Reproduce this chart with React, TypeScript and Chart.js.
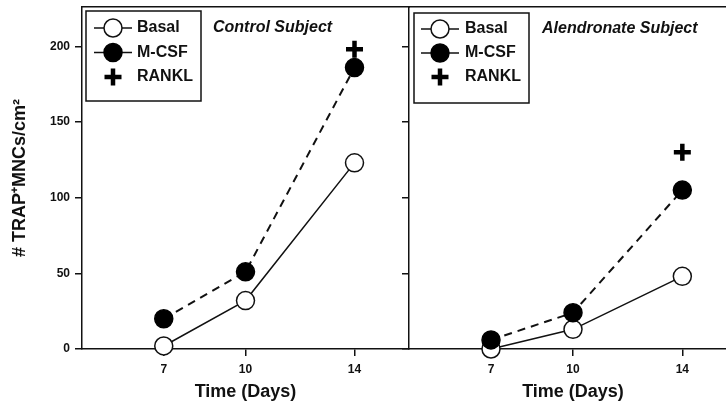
import React, { useEffect, useRef } from 'react';
import { Chart, registerables } from 'chart.js';

Chart.register(...registerables);

// ---- data ----
const days = [7, 10, 14];
const rankDays = [14];
const xTicks = [7, 10, 14];
const yTicks = [0, 50, 100, 150, 200];
const seriesLabels = ['Basal', 'M-CSF', 'RANKL'];
const panelTitles = ['Control Subject', 'Alendronate Subject'];
const xTitle = 'Time (Days)';
const yTitle = '# TRAP⁺MNCs/cm²';

const controlBasal = [2, 32, 123];
const controlMCSF = [20, 51, 186];
const controlRANKL = [198];

const alendronateBasal = [0, 13, 48];
const alendronateMCSF = [6, 24, 105];
const alendronateRANKL = [130];

const X_MIN = 4;
const X_MAX = 16;
const Y_MIN = 0;
const Y_MAX = 226;

const FONT = '"Liberation Sans", Arial, Helvetica, sans-serif';
const INK = '#111';

Chart.defaults.font.family = FONT;
Chart.defaults.color = INK;

function makeDatasets(basal: number[], mcsf: number[], rankl: number[]) {
  return [
    {
      label: seriesLabels[0],
      data: days.map((d, i) => ({ x: d, y: basal[i] })),
      borderColor: INK,
      borderWidth: 1.5,
      pointStyle: 'circle',
      pointRadius: 9,
      pointBackgroundColor: '#fff',
      pointBorderColor: INK,
      pointBorderWidth: 1.5,
      showLine: true,
      fill: false,
      order: 2,
      clip: false,
    },
    {
      label: seriesLabels[1],
      data: days.map((d, i) => ({ x: d, y: mcsf[i] })),
      borderColor: INK,
      borderWidth: 2,
      borderDash: [8, 6],
      pointStyle: 'circle',
      pointRadius: 9,
      pointBackgroundColor: '#000',
      pointBorderColor: '#000',
      pointBorderWidth: 1.5,
      showLine: true,
      fill: false,
      order: 1,
      clip: false,
    },
    {
      label: seriesLabels[2],
      data: rankDays.map((d, i) => ({ x: d, y: rankl[i] })),
      borderColor: '#000',
      showLine: false,
      pointStyle: 'cross',
      pointRadius: 8.5,
      pointBackgroundColor: '#000',
      pointBorderColor: '#000',
      pointBorderWidth: 4.5,
      order: 0,
      clip: false,
    },
  ];
}

const panelDecor = {
  id: 'panelDecor',
  afterDraw(chart: any, _args: any, opts: any) {
    const { ctx, chartArea } = chart;
    const { left, top } = chartArea;
    ctx.save();
    // panel subtitle
    ctx.font = `italic bold 16px ${FONT}`;
    ctx.fillStyle = INK;
    ctx.textAlign = 'left';
    ctx.textBaseline = 'alphabetic';
    ctx.fillText(opts.title, left + opts.titleDx, top + opts.titleDy);
    // legend box
    const bx = left + opts.legendDx;
    const by = top + opts.legendDy;
    ctx.lineWidth = 1.5;
    ctx.strokeStyle = INK;
    ctx.strokeRect(bx, by, opts.legendW, opts.legendH);
    chart.data.datasets.forEach((ds: any, i: number) => {
      const cy = by + opts.rowY0 + i * opts.rowGap;
      const cx = bx + opts.symDx;
      if (ds.showLine) {
        ctx.beginPath();
        ctx.setLineDash([]);
        ctx.lineWidth = 1.5;
        ctx.strokeStyle = INK;
        ctx.moveTo(cx - 19, cy);
        ctx.lineTo(cx + 19, cy);
        ctx.stroke();
      }
      if (ds.pointStyle === 'circle') {
        ctx.beginPath();
        ctx.arc(cx, cy, ds.pointRadius, 0, Math.PI * 2);
        ctx.fillStyle = ds.pointBackgroundColor;
        ctx.fill();
        ctx.lineWidth = ds.pointBorderWidth;
        ctx.strokeStyle = ds.pointBorderColor;
        ctx.stroke();
      } else {
        const r = ds.pointRadius;
        ctx.beginPath();
        ctx.lineWidth = ds.pointBorderWidth;
        ctx.strokeStyle = ds.pointBorderColor;
        ctx.moveTo(cx - r, cy);
        ctx.lineTo(cx + r, cy);
        ctx.moveTo(cx, cy - r);
        ctx.lineTo(cx, cy + r);
        ctx.stroke();
      }
      ctx.font = `bold 16px ${FONT}`;
      ctx.fillStyle = INK;
      ctx.textBaseline = 'middle';
      ctx.fillText(ds.label, bx + opts.textDx, cy);
    });
    ctx.restore();
  },
};

type PanelProps = {
  canvasLeft: number;
  canvasWidth: number;
  yAxisWidth: number;
  padRight: number;
  primary: boolean;
  datasets: any[];
  decor: any;
};

function Panel(props: PanelProps) {
  const ref = useRef<HTMLCanvasElement | null>(null);
  useEffect(() => {
    if (!ref.current) return;
    const { primary } = props;
    const chart = new Chart(ref.current, {
      type: 'line',
      data: { datasets: props.datasets as any },
      plugins: [panelDecor as any],
      options: {
        animation: false,
        responsive: false,
        devicePixelRatio: 1,
        events: [],
        layout: {
          autoPadding: false,
          padding: { left: 0, right: props.padRight, top: 7, bottom: 0 },
        },
        plugins: {
          legend: { display: false },
          tooltip: { enabled: false },
          title: { display: false },
          panelDecor: props.decor,
        } as any,
        scales: {
          x: {
            type: 'linear',
            position: 'bottom',
            min: X_MIN,
            max: X_MAX,
            afterBuildTicks: (s: any) => {
              s.ticks = xTicks.map((v) => ({ value: v }));
            },
            afterFit: (s: any) => {
              s.height = 61;
              s.paddingLeft = 0;
              s.paddingRight = 0;
            },
            ticks: {
              font: { size: 12, weight: 'bold' },
              color: INK,
              padding: 6,
              maxRotation: 0,
            },
            grid: {
              drawOnChartArea: false,
              drawTicks: true,
              tickLength: 7,
              color: INK,
              lineWidth: 1.5,
            },
            border: { display: true, color: INK, width: 1.5 },
            title: {
              display: true,
              text: xTitle,
              font: { size: 18, weight: 'bold' },
              color: INK,
              padding: { top: 0, bottom: 7 },
            },
          },
          y: {
            type: 'linear',
            position: 'left',
            min: Y_MIN,
            max: Y_MAX,
            afterBuildTicks: (s: any) => {
              s.ticks = yTicks.map((v) => ({ value: v }));
            },
            afterFit: (s: any) => {
              s.width = props.yAxisWidth;
              s.paddingTop = 0;
              s.paddingBottom = 0;
            },
            ticks: {
              display: primary,
              font: { size: 12, weight: 'bold' },
              color: INK,
              padding: 5,
            },
            grid: {
              drawOnChartArea: false,
              drawTicks: true,
              tickLength: 7,
              color: INK,
              lineWidth: 1.5,
            },
            border: { display: true, color: INK, width: 1.5 },
            title: {
              display: primary,
              text: yTitle,
              font: { size: 18, weight: 'bold' },
              color: INK,
              padding: { top: 9, bottom: 0 },
            },
          },
          xTop: {
            type: 'linear',
            position: 'top',
            min: X_MIN,
            max: X_MAX,
            afterFit: (s: any) => {
              s.height = 0;
              s.paddingLeft = 0;
              s.paddingRight = 0;
            },
            ticks: { display: false },
            grid: { drawOnChartArea: false, drawTicks: false },
            border: { display: true, color: INK, width: 1.5 },
          },
        } as any,
      },
    });
    return () => chart.destroy();
  }, []);
  return (
    <canvas
      ref={ref}
      width={props.canvasWidth}
      height={410}
      style={{
        position: 'absolute',
        left: props.canvasLeft,
        top: 0,
        width: props.canvasWidth,
        height: 410,
      }}
    />
  );
}

export default function App() {
  return (
    <div
      style={{
        position: 'fixed',
        left: 0,
        top: 0,
        width: 726,
        height: 410,
        overflow: 'hidden',
        background: '#fff',
      }}
    >
      <Panel
        canvasLeft={0}
        canvasWidth={420}
        yAxisWidth={82}
        padRight={11}
        primary={true}
        datasets={makeDatasets(controlBasal, controlMCSF, controlRANKL)}
        decor={{
          title: panelTitles[0],
          titleDx: 131,
          titleDy: 25,
          legendDx: 4,
          legendDy: 4,
          legendW: 115,
          legendH: 90,
          symDx: 27,
          textDx: 51,
          rowY0: 17,
          rowGap: 24.5,
        }}
      />
      <Panel
        canvasLeft={395}
        canvasWidth={350}
        yAxisWidth={14}
        padRight={8}
        primary={false}
        datasets={makeDatasets(alendronateBasal, alendronateMCSF, alendronateRANKL)}
        decor={{
          title: panelTitles[1],
          titleDx: 133,
          titleDy: 26,
          legendDx: 5,
          legendDy: 6,
          legendW: 115,
          legendH: 90,
          symDx: 26,
          textDx: 51,
          rowY0: 16,
          rowGap: 24,
        }}
      />
    </div>
  );
}
